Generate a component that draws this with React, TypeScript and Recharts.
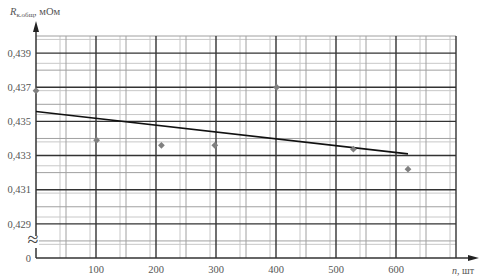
import {
    ComposedChart,
    Scatter,
    XAxis,
    YAxis,
    CartesianGrid
} from "recharts";

// measured points: n (pcs) -> R (mOhm)
const nValues = [0, 101, 209, 298, 401, 529, 620];
const rValues = [0.4368, 0.4339, 0.4336, 0.4336, 0.4370, 0.43337, 0.4322];

// fitted trend line ends
const trendN = [0, 620];
const trendR = [0.43558, 0.43310];

const xTicks = [100, 200, 300, 400, 500, 600];
const yTicks = [0.427, 0.429, 0.431, 0.433, 0.435, 0.437, 0.439];

const points = nValues.map((n, i) => ({ n, r: rValues[i] }));
const trend = trendN.map((n, i) => ({ n, r: trendR[i] }));

// grid values: minor / mid / major
const vMinor: number[] = [];
const vMid: number[] = [];
const vMajor: number[] = [];
for (let v = 10; v <= 700; v += 10) {
    if (v % 100 === 0) vMajor.push(v);
    else if (v % 50 === 0) vMid.push(v);
    else vMinor.push(v);
}
const hMinor: number[] = [];
const hMid: number[] = [];
const hMajor: number[] = [];
for (let k = 1; k <= 65; k++) {
    const h = +(0.427 + k * 0.0002).toFixed(4);
    if (k % 10 === 0) hMajor.push(h);
    else if (k % 5 === 0) hMid.push(h);
    else hMinor.push(h);
}

const fmtY = (v: number) =>
    Math.abs(v - 0.427) < 1e-6 ? "0" : v.toFixed(3).replace(".", ",");

const Diamond = (props: any) => {
    const { cx, cy } = props;
    if (cx == null || cy == null) return null;
    const s = 3.4;
    return (
        <path
            d={`M${cx},${cy - s}L${cx + s},${cy}L${cx},${cy + s}L${cx - s},${cy}Z`}
            fill="#808080"
            stroke="none"
        />
    );
};

const font = "'Liberation Serif', 'DejaVu Serif', serif";
const margin = { top: 36, right: 26, bottom: 0, left: 0 };
const tickStyle = { fontSize: 10.5, fill: "#555", fontFamily: font };

export default function App() {
    const xAxis = (show: boolean) => (
        <XAxis
            type="number"
            dataKey="n"
            domain={[0, 700]}
            ticks={xTicks}
            tickLine={false}
            axisLine={false}
            height={22}
            tick={show ? tickStyle : false}
        />
    );
    const yAxis = (show: boolean) => (
        <YAxis
            type="number"
            dataKey="r"
            domain={[0.427, 0.440]}
            ticks={yTicks}
            tickFormatter={fmtY}
            tickLine={false}
            tickSize={3}
            axisLine={false}
            width={36}
            tick={show ? tickStyle : false}
        />
    );

    return (
        <div style={{ position: "absolute", left: 0, top: 0, width: 482, height: 280, background: "#fff" }}>
            {/* grid layer */}
            <div style={{ position: "absolute", left: 0, top: 0 }}>
                <ComposedChart width={482} height={280} margin={margin} data={points}>
                    {xAxis(true)}
                    {yAxis(true)}
                    <CartesianGrid
                        verticalValues={vMinor}
                        horizontalValues={hMinor}
                        stroke="#c8c8c8"
                    />
                    <CartesianGrid
                        verticalValues={vMid}
                        horizontalValues={hMid}
                        stroke="#a0a0a0"
                    />
                    <CartesianGrid
                        verticalValues={vMajor}
                        horizontalValues={hMajor}
                        stroke="#333"
                        strokeWidth={1.4}
                    />
                </ComposedChart>
            </div>

            {/* axes, arrows and titles */}
            <svg
                width={482}
                height={280}
                style={{ position: "absolute", left: 0, top: 0 }}
            >
                <line x1={36} y1={258} x2={36} y2={28} stroke="#333" strokeWidth={1.5} />
                <polygon points="36,21 33,32 39,32" fill="#222" />
                <line x1={36} y1={258} x2={472} y2={258} stroke="#333" strokeWidth={1.5} />
                <polygon points="479,258 468,255 468,261" fill="#222" />
                <rect x={33} y={236} width={6} height={12} fill="#fff" />
                <text x={33} y={246} fontSize={20} fontFamily={font} fill="#444" textAnchor="middle">≈</text>
                <text x={10} y={15} fontSize={10.5} fontFamily={font} fill="#555">
                    <tspan fontStyle="italic">R</tspan>
                    <tspan fontSize={7} dy={2}>к.общ</tspan>
                    <tspan dy={-2}>, мОм</tspan>
                </text>
                <text x={452} y={274} fontSize={10} fontFamily={font} fill="#555">
                    <tspan fontStyle="italic">n</tspan>
                    <tspan>, шт</tspan>
                </text>
            </svg>

            {/* data layer */}
            <div style={{ position: "absolute", left: 0, top: 0 }}>
                <ComposedChart width={482} height={280} margin={margin}>
                    {xAxis(false)}
                    {yAxis(false)}
                    <Scatter
                        data={trend}
                        line={{ stroke: "#111", strokeWidth: 1.6 }}
                        shape={() => null}
                        isAnimationActive={false}
                    />
                    <Scatter
                        data={points}
                        shape={Diamond}
                        isAnimationActive={false}
                    />
                </ComposedChart>
            </div>
        </div>
    );
}
